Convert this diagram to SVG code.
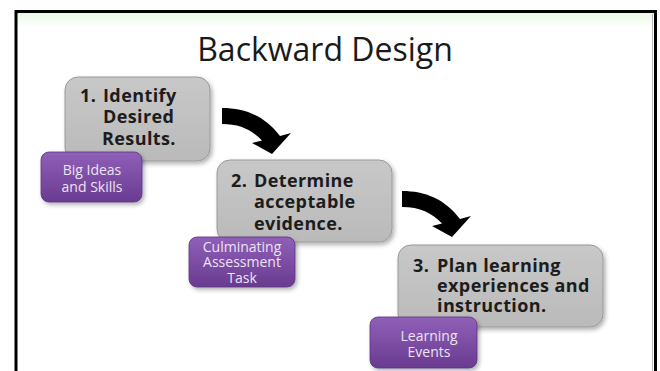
<svg xmlns="http://www.w3.org/2000/svg" width="660" height="371" viewBox="0 0 660 371">
  <style>
    .step { fill: url(#grayFill); stroke: #9a9a9a; stroke-width: 1; filter: url(#shadow); }
    .tag { fill: url(#purpleFill); stroke: #5a3380; stroke-width: 0.8; filter: url(#shadow); }
    .stepText { font-family: "Open Sans", "Liberation Sans", sans-serif; font-weight: bold; font-size: 18px; letter-spacing: 0.4px; fill: #1c1c1c; }
    .tagText { font-family: "Open Sans", "Liberation Sans", sans-serif; font-size: 14px; fill: #ece3f3; text-anchor: middle; }
    .title { font-family: "Open Sans", "Liberation Sans", sans-serif; font-size: 32px; fill: #1a1a1a; text-anchor: middle; }
    .arrow { fill: #000; }
  </style>
  <defs>
    <linearGradient id="grayFill" x1="0" y1="0" x2="0" y2="1">
      <stop offset="0" stop-color="#c8c8c8"/>
      <stop offset="1" stop-color="#bababa"/>
    </linearGradient>
    <linearGradient id="purpleFill" x1="0" y1="0" x2="0" y2="1">
      <stop offset="0" stop-color="#9060b8"/>
      <stop offset="1" stop-color="#693b90"/>
    </linearGradient>
    <linearGradient id="topTint" x1="0" y1="0" x2="0" y2="1">
      <stop offset="0" stop-color="#e9f8e4"/>
      <stop offset="1" stop-color="#ffffff"/>
    </linearGradient>
    <filter id="shadow" x="-20%" y="-20%" width="140%" height="150%">
      <feDropShadow dx="2" dy="2.5" stdDeviation="2" flood-color="#000" flood-opacity="0.3"/>
    </filter>
    <path id="bentArrow" d="M222,108 C245,108 265,116 280,136 L291,133 L272,154 L252,143 L262,140.4 C252,130 240,124 222,124 Z"/>
  </defs>

  <rect width="660" height="371" fill="#ffffff"/>
  <!-- slide frame, open at the bottom -->
  <rect x="17" y="13" width="638" height="14" fill="url(#topTint)"/>
  <path d="M16,371 L16,11.5 L655.5,11.5 L655.5,371" fill="none" stroke="#000" stroke-width="3"/>
  <line x1="652.5" y1="14" x2="652.5" y2="371" stroke="#b8b8b8" stroke-width="1"/>

  <text class="title" x="325" y="61">Backward Design</text>

  <g id="connectors">
    <use href="#bentArrow" class="arrow"/>
    <use href="#bentArrow" class="arrow" transform="translate(180,83)"/>
  </g>

  <g id="step1">
    <rect class="step" x="65" y="77" width="145" height="84" rx="13"/>
    <text class="stepText" x="80" y="102">1.</text>
    <text class="stepText" x="103" y="102">Identify</text>
    <text class="stepText" x="103" y="123">Desired</text>
    <text class="stepText" x="102" y="145">Results.</text>
  </g>
  <g id="tag1">
    <rect class="tag" x="41" y="152" width="101" height="50" rx="8"/>
    <text class="tagText" x="92" y="175">Big Ideas</text>
    <text class="tagText" x="92" y="192">and Skills</text>
  </g>

  <g id="step2">
    <rect class="step" x="217" y="160" width="175" height="82" rx="13"/>
    <text class="stepText" x="231" y="187">2.</text>
    <text class="stepText" x="254" y="187">Determine</text>
    <text class="stepText" x="254" y="208">acceptable</text>
    <text class="stepText" x="254" y="230">evidence.</text>
  </g>
  <g id="tag2">
    <rect class="tag" x="189" y="237" width="106" height="50" rx="8"/>
    <text class="tagText" x="242" y="252">Culminating</text>
    <text class="tagText" x="242" y="267">Assessment</text>
    <text class="tagText" x="242" y="283">Task</text>
  </g>

  <g id="step3">
    <rect class="step" x="398" y="245" width="205" height="82" rx="13"/>
    <text class="stepText" x="413" y="272">3.</text>
    <text class="stepText" x="437" y="272">Plan learning</text>
    <text class="stepText" x="437" y="292">experiences and</text>
    <text class="stepText" x="437" y="312">instruction.</text>
  </g>
  <g id="tag3">
    <rect class="tag" x="370" y="317" width="107" height="51" rx="8"/>
    <text class="tagText" x="429" y="341">Learning</text>
    <text class="tagText" x="429" y="357">Events</text>
  </g>
</svg>
